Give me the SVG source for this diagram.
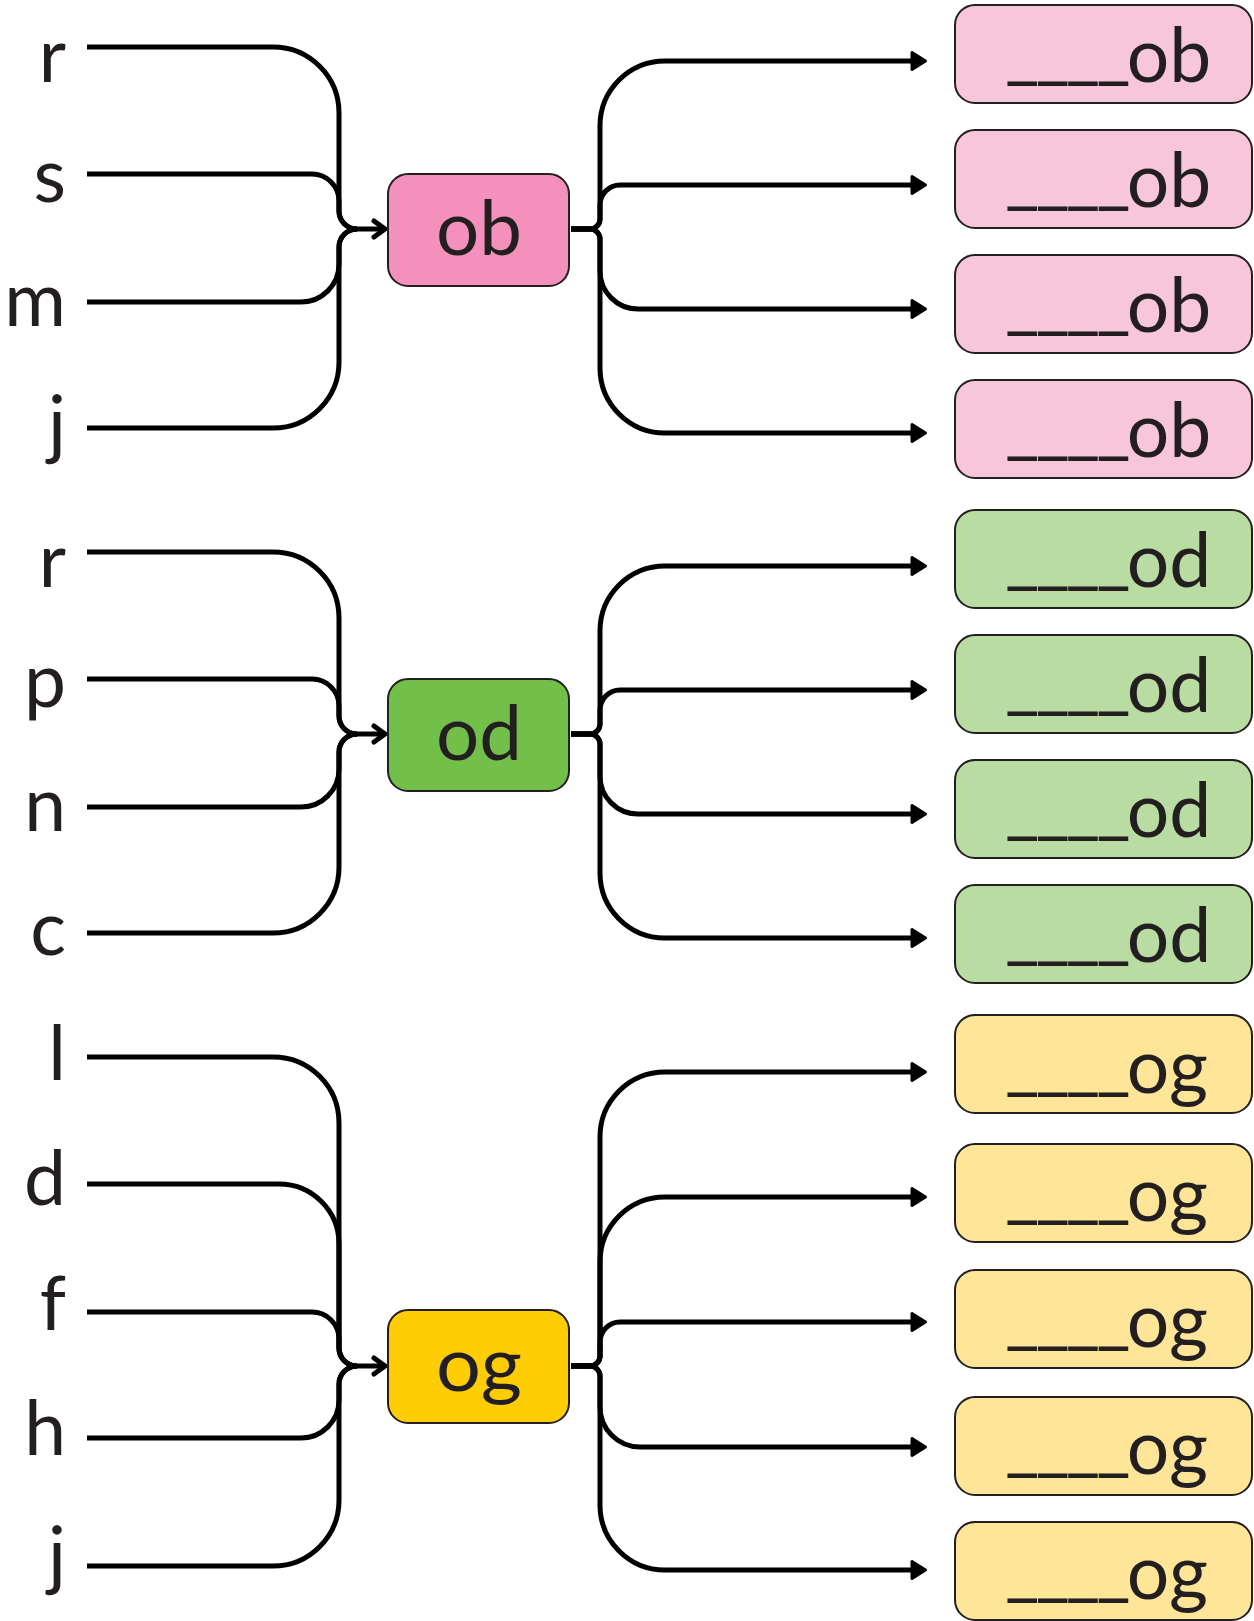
<svg xmlns="http://www.w3.org/2000/svg" width="1254" height="1621" viewBox="0 0 1254 1621">
<style>
.lt{font-family:Lato,"Noto Sans",sans-serif;font-size:75px;fill:#231F20;}
.in{text-anchor:end;}
.us{letter-spacing:-4px;}
.c{fill:none;stroke:#000;stroke-width:5;}
.bx{stroke:#231F20;stroke-width:2;}
.pk{fill:#F391BC}.pkl{fill:#F8C6DA}
.gr{fill:#72C04A}.grl{fill:#B9DCA2}
.yl{fill:#FFCD05}.yll{fill:#FFE597}
</style>
<defs>
<marker id="open" markerUnits="userSpaceOnUse" markerWidth="30" markerHeight="30" viewBox="-15 -15 30 30" refX="0" refY="0" orient="auto" overflow="visible">
<path d="M-11,-8 L0,0 L-11,8" fill="none" stroke="#000" stroke-width="5" stroke-linecap="round" stroke-linejoin="round"/>
</marker>
<marker id="fill" markerUnits="userSpaceOnUse" markerWidth="30" markerHeight="30" viewBox="-15 -15 30 30" refX="0" refY="0" orient="auto" overflow="visible">
<path d="M0,-8.5 L13.5,0 L0,8.5 Z" fill="#000" stroke="#000" stroke-width="3" stroke-linejoin="round"/>
</marker>
</defs>

<g id="connectors">
<path class="c" d="M87,47 H273 A66,66 0 0 1 339,113 V211 A18,18 0 0 0 357,229"/>
<path class="c" d="M87,174 H312 A27,27 0 0 1 339,201 V211 A18,18 0 0 0 357,229"/>
<path class="c" d="M87,302 H301 A38,38 0 0 0 339,264 V247 A18,18 0 0 1 357,229"/>
<path class="c" d="M87,428 H273 A66,66 0 0 0 339,362 V247 A18,18 0 0 1 357,229"/>
<path class="c" d="M357,229 H385" marker-end="url(#open)"/>
<path class="c" d="M571,229 H590 A10,10 0 0 0 600,219 V126 A65,65 0 0 1 665,61 H912" marker-end="url(#fill)"/>
<path class="c" d="M571,229 H590 A10,10 0 0 0 600,219 V205 A20,20 0 0 1 620,185 H912" marker-end="url(#fill)"/>
<path class="c" d="M571,229 H590 A10,10 0 0 1 600,239 V271 A38,38 0 0 0 638,309 H912" marker-end="url(#fill)"/>
<path class="c" d="M571,229 H590 A10,10 0 0 1 600,239 V368 A65,65 0 0 0 665,433 H912" marker-end="url(#fill)"/>

<path class="c" d="M87,552 H273 A66,66 0 0 1 339,618 V716 A18,18 0 0 0 357,734"/>
<path class="c" d="M87,679 H312 A27,27 0 0 1 339,706 V716 A18,18 0 0 0 357,734"/>
<path class="c" d="M87,807 H301 A38,38 0 0 0 339,769 V752 A18,18 0 0 1 357,734"/>
<path class="c" d="M87,933 H273 A66,66 0 0 0 339,867 V752 A18,18 0 0 1 357,734"/>
<path class="c" d="M357,734 H385" marker-end="url(#open)"/>
<path class="c" d="M571,734 H590 A10,10 0 0 0 600,724 V631 A65,65 0 0 1 665,566 H912" marker-end="url(#fill)"/>
<path class="c" d="M571,734 H590 A10,10 0 0 0 600,724 V710 A20,20 0 0 1 620,690 H912" marker-end="url(#fill)"/>
<path class="c" d="M571,734 H590 A10,10 0 0 1 600,744 V776 A38,38 0 0 0 638,814 H912" marker-end="url(#fill)"/>
<path class="c" d="M571,734 H590 A10,10 0 0 1 600,744 V873 A65,65 0 0 0 665,938 H912" marker-end="url(#fill)"/>

<path class="c" d="M87,1057 H273 A66,66 0 0 1 339,1123 V1348 A18,18 0 0 0 357,1366"/>
<path class="c" d="M87,1184 H279 A60,60 0 0 1 339,1244 V1348 A18,18 0 0 0 357,1366"/>
<path class="c" d="M87,1312 H312 A27,27 0 0 1 339,1339 V1348 A18,18 0 0 0 357,1366"/>
<path class="c" d="M87,1438 H301 A38,38 0 0 0 339,1400 V1384 A18,18 0 0 1 357,1366"/>
<path class="c" d="M87,1566 H273 A66,66 0 0 0 339,1500 V1384 A18,18 0 0 1 357,1366"/>
<path class="c" d="M357,1366 H385" marker-end="url(#open)"/>
<path class="c" d="M571,1366 H590 A10,10 0 0 0 600,1356 V1137 A65,65 0 0 1 665,1072 H912" marker-end="url(#fill)"/>
<path class="c" d="M571,1366 H590 A10,10 0 0 0 600,1356 V1262 A65,65 0 0 1 665,1197 H912" marker-end="url(#fill)"/>
<path class="c" d="M571,1366 H590 A10,10 0 0 0 600,1356 V1342 A20,20 0 0 1 620,1322 H912" marker-end="url(#fill)"/>
<path class="c" d="M571,1366 H590 A10,10 0 0 1 600,1376 V1407 A40,40 0 0 0 640,1447 H912" marker-end="url(#fill)"/>
<path class="c" d="M571,1366 H590 A10,10 0 0 1 600,1376 V1505 A65,65 0 0 0 665,1570 H912" marker-end="url(#fill)"/>
</g>

<g id="in-r1"><text class="lt in" x="66" y="82">r</text></g>
<g id="in-s1"><text class="lt in" x="66" y="202">s</text></g>
<g id="in-m1"><text class="lt in" x="66" y="326">m</text></g>
<g id="in-j1"><text class="lt in" x="66" y="450">j</text></g>
<g id="in-r2"><text class="lt in" x="66" y="587">r</text></g>
<g id="in-p2"><text class="lt in" x="66" y="707">p</text></g>
<g id="in-n2"><text class="lt in" x="66" y="831">n</text></g>
<g id="in-c2"><text class="lt in" x="66" y="955">c</text></g>
<g id="in-l3"><text class="lt in" x="66" y="1080">l</text></g>
<g id="in-d3"><text class="lt in" x="66" y="1205">d</text></g>
<g id="in-f3"><text class="lt in" x="66" y="1330">f</text></g>
<g id="in-h3"><text class="lt in" x="66" y="1455">h</text></g>
<g id="in-j3"><text class="lt in" x="66" y="1581">j</text></g>

<g id="node-ob"><rect class="bx pk" x="388" y="174" width="181" height="112" rx="20"/><text class="lt" x="436" y="255" textLength="86" lengthAdjust="spacingAndGlyphs">ob</text></g>
<g id="node-od"><rect class="bx gr" x="388" y="679" width="181" height="112" rx="20"/><text class="lt" x="436" y="760" textLength="86" lengthAdjust="spacingAndGlyphs">od</text></g>
<g id="node-og"><rect class="bx yl" x="388" y="1310" width="181" height="113" rx="20"/><text class="lt" x="436" y="1391" textLength="86" lengthAdjust="spacingAndGlyphs">og</text></g>

<g id="out-ob1"><rect class="bx pkl" x="955" y="5" width="297" height="98" rx="20"/><text class="lt" x="1005" y="82"><tspan class="us" baseline-shift="7">____</tspan>ob</text></g>
<g id="out-ob2"><rect class="bx pkl" x="955" y="130" width="297" height="98" rx="20"/><text class="lt" x="1005" y="207"><tspan class="us" baseline-shift="7">____</tspan>ob</text></g>
<g id="out-ob3"><rect class="bx pkl" x="955" y="255" width="297" height="98" rx="20"/><text class="lt" x="1005" y="332"><tspan class="us" baseline-shift="7">____</tspan>ob</text></g>
<g id="out-ob4"><rect class="bx pkl" x="955" y="380" width="297" height="98" rx="20"/><text class="lt" x="1005" y="457"><tspan class="us" baseline-shift="7">____</tspan>ob</text></g>

<g id="out-od1"><rect class="bx grl" x="955" y="510" width="297" height="98" rx="20"/><text class="lt" x="1005" y="587"><tspan class="us" baseline-shift="7">____</tspan>od</text></g>
<g id="out-od2"><rect class="bx grl" x="955" y="635" width="297" height="98" rx="20"/><text class="lt" x="1005" y="712"><tspan class="us" baseline-shift="7">____</tspan>od</text></g>
<g id="out-od3"><rect class="bx grl" x="955" y="760" width="297" height="98" rx="20"/><text class="lt" x="1005" y="837"><tspan class="us" baseline-shift="7">____</tspan>od</text></g>
<g id="out-od4"><rect class="bx grl" x="955" y="885" width="297" height="98" rx="20"/><text class="lt" x="1005" y="962"><tspan class="us" baseline-shift="7">____</tspan>od</text></g>

<g id="out-og1"><rect class="bx yll" x="955" y="1015" width="297" height="98" rx="20"/><text class="lt" x="1005" y="1093"><tspan class="us" baseline-shift="7">____</tspan>og</text></g>
<g id="out-og2"><rect class="bx yll" x="955" y="1144" width="297" height="98" rx="20"/><text class="lt" x="1005" y="1221"><tspan class="us" baseline-shift="7">____</tspan>og</text></g>
<g id="out-og3"><rect class="bx yll" x="955" y="1270" width="297" height="98" rx="20"/><text class="lt" x="1005" y="1347"><tspan class="us" baseline-shift="7">____</tspan>og</text></g>
<g id="out-og4"><rect class="bx yll" x="955" y="1397" width="297" height="98" rx="20"/><text class="lt" x="1005" y="1474"><tspan class="us" baseline-shift="7">____</tspan>og</text></g>
<g id="out-og5"><rect class="bx yll" x="955" y="1522" width="297" height="98" rx="20"/><text class="lt" x="1005" y="1599"><tspan class="us" baseline-shift="7">____</tspan>og</text></g>
</svg>
